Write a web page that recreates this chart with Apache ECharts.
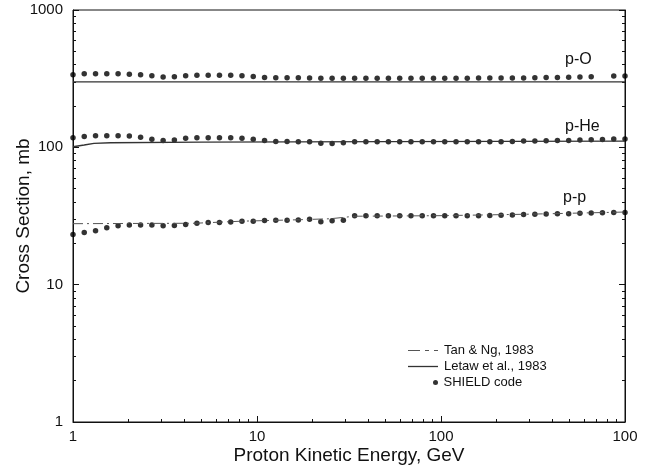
<!DOCTYPE html>
<html>
<head>
<meta charset="utf-8">
<script src="https://cdn.jsdelivr.net/npm/echarts@6/dist/echarts.min.js"></script>
<style>
  html, body { margin: 0; padding: 0; background: #fff; }
  #chart { width: 649px; height: 466px; }
</style>
</head>
<body>
<div id="chart"></div>
<script>
// proton kinetic energy, GeV (log grid of the SHIELD points)
const energy = [1, 1.151, 1.326, 1.526, 1.758, 2.024, 2.330, 2.683, 3.089, 3.556,
  4.095, 4.715, 5.429, 6.251, 7.197, 8.286, 9.541, 10.99, 12.65, 14.57,
  16.77, 19.31, 22.23, 25.60, 29.47, 33.93, 39.07, 44.99, 51.79, 59.64,
  68.66, 79.06, 91.03, 104.8, 120.7, 138.9, 160.0, 184.2, 212.1, 244.2,
  281.2, 323.7, 372.8, 429.2, 494.2, 569.0, 655.1, 754.3, 868.6, 1000];

// SHIELD code, mb
const shieldPO = [338, 343, 344, 344, 343, 340, 338, 332, 325, 326,
  332, 335, 335, 335, 335, 332, 328, 322, 321, 321,
  321, 320, 319, 318, 319, 319, 318, 319, 319, 319,
  318, 319, 319, 319, 319, 319, 320, 320, 320, 320,
  320, 321, 322, 323, 324, 325, 326, null, 330, 331];
const shieldPHe = [117.5, 120, 121.5, 121.5, 121.5, 121, 118.5, 114.5, 112, 113,
  116.5, 117.5, 117.5, 117.5, 117.5, 116.5, 114.5, 112, 110.5, 110.5,
  110, 110, 107, 106.5, 108, 110, 110, 110, 110, 110,
  110, 110, 110, 110, 110, 110, 110, 110, 110, 110.5,
  111, 111, 111.5, 112, 112, 113, 113.5, 114, 115, 115];
const shieldPP = [23.2, 24.0, 24.7, 26.0, 26.8, 27.2, 27.2, 27.2, 26.9, 27.0,
  27.4, 28.0, 28.3, 28.3, 28.6, 29.0, 29.0, 29.3, 29.5, 29.5,
  29.6, 29.9, 28.7, 29.2, 29.5, 31.8, 31.8, 31.8, 31.8, 31.8,
  31.8, 31.8, 31.8, 31.8, 31.8, 31.8, 31.8, 31.9, 32.0, 32.2,
  32.4, 32.6, 32.7, 32.8, 32.9, 33.1, 33.3, 33.4, 33.6, 33.6];

// Letaw et al., 1983
const letawOE = [1, 10, 100, 1000];
const letawPO = [300, 300, 300, 300];
const letawHeE = [1, 1.15, 1.3, 1.6, 5, 50, 1000];
const letawPHe = [101, 104, 107, 108, 109, 110, 111];

// Tan & Ng, 1983
const tanE = [1, 2, 4.6, 8.3, 17, 25, 34, 100, 300, 1000];
const tanPP = [27.8, 27.9, 28.0, 29.0, 29.7, 30.2, 31.5, 31.8, 32.6, 33.8];

// ticks
const xTickLabels = ['1', '10', '100', '100'];
const yTickLabels = ['1', '10', '100', '1000'];
const minorTicks = [2, 3, 4, 5, 6, 7, 8, 9, 20, 30, 40, 50, 60, 70, 80, 90,
  200, 300, 400, 500, 600, 700, 800, 900];

const pairs = (xs, ys) => xs.map((x, i) => [x, ys[i]]).filter(p => p[1] != null);

const FONT = 'Liberation Sans, Arial, Helvetica, sans-serif';
const INK = '#111';

const chart = echarts.init(document.getElementById('chart'));

const logAxis = {
  type: 'log',
  logBase: 10,
  min: 1,
  max: 1000,
  splitLine: { show: false },
  minorTick: { show: false },
  minorSplitLine: { show: false }
};
// minor ticks drawn by a plain value axis spanning the same decades (0..3 in log10)
const minorAxis = (position) => ({
  type: 'value',
  position: position,
  min: 0,
  max: 3,
  splitLine: { show: false },
  axisLine: { show: false, onZero: false },
  axisLabel: { show: false },
  axisTick: {
    show: true, inside: true, length: 3,
    customValues: minorTicks.map(v => Math.log10(v)),
    lineStyle: { color: INK }
  }
});
const majorTick = { show: true, inside: true, length: 6, lineStyle: { color: INK } };
const axisLine = { show: true, onZero: false, lineStyle: { color: INK, width: 1 } };

const legendText = { fontFamily: FONT, fontSize: 13, color: INK };

const option = {
  animation: false,
  backgroundColor: '#fff',
  grid: {
    left: 73, right: 24, top: 10, bottom: 44,
    outerBoundsMode: 'none',
    show: true, borderColor: INK, borderWidth: 1, backgroundColor: 'transparent'
  },
  legend: [
    {
      data: [{ name: 'Tan & Ng, 1983', icon: 'path://M0,0h12v1h-12z M17,0h4v1h-4z M26,0h4v1h-4z' }],
      left: 403, top: 339,
      itemWidth: 30, itemHeight: 1.2,
      textStyle: Object.assign({ padding: [0, 0, 0, 1] }, legendText)
    },
    {
      data: [{ name: 'Letaw et al., 1983', icon: 'rect' }],
      left: 403, top: 355,
      itemWidth: 30, itemHeight: 1.3,
      textStyle: Object.assign({ padding: [0, 0, 0, 1] }, legendText)
    },
    {
      data: ['SHIELD code'],
      left: 428, top: 371,
      itemWidth: 6, itemHeight: 5,
      textStyle: legendText
    }
  ],
  xAxis: [
    Object.assign({}, logAxis, {
      position: 'bottom',
      name: 'Proton Kinetic Energy, GeV',
      nameLocation: 'middle',
      nameGap: 24,
      nameMoveOverlap: false,
      nameTextStyle: { fontFamily: FONT, fontSize: 19, color: INK },
      axisLine: axisLine,
      axisTick: majorTick,
      axisLabel: {
        margin: 7, fontFamily: FONT, fontSize: 15, color: INK,
        formatter: (v, i) => xTickLabels[i]
      }
    }),
    minorAxis('bottom')
  ],
  yAxis: [
    Object.assign({}, logAxis, {
      position: 'left',
      name: 'Cross Section, mb',
      nameLocation: 'middle',
      nameGap: 40,
      nameMoveOverlap: false,
      nameTextStyle: { fontFamily: FONT, fontSize: 19, color: INK },
      axisLine: axisLine,
      axisTick: majorTick,
      axisLabel: {
        margin: 10, fontFamily: FONT, fontSize: 15, color: INK,
        formatter: (v, i) => yTickLabels[i]
      }
    }),
    minorAxis('left'),
    Object.assign({}, logAxis, {
      position: 'right',
      axisLine: axisLine,
      axisTick: majorTick,
      axisLabel: { show: false }
    }),
    minorAxis('right')
  ],
  graphic: [
    { type: 'text', left: 565, top: 52, style: { text: 'p-O', font: '16px ' + FONT, fill: INK } },
    { type: 'text', left: 565, top: 119, style: { text: 'p-He', font: '16px ' + FONT, fill: INK } },
    { type: 'text', left: 563, top: 190, style: { text: 'p-p', font: '16px ' + FONT, fill: INK } }
  ],
  series: [
    {
      name: 'Tan & Ng, 1983', type: 'line', symbol: 'none',
      data: pairs(tanE, tanPP),
      lineStyle: { color: '#555', width: 1, type: [10, 4, 2, 4] }, itemStyle: { color: '#555' }
    },
    {
      name: 'Letaw et al., 1983', type: 'line', symbol: 'none',
      data: pairs(letawOE, letawPO),
      lineStyle: { color: '#333', width: 1.3 }, itemStyle: { color: '#333' }
    },
    {
      name: 'Letaw et al., 1983', type: 'line', symbol: 'none',
      data: pairs(letawHeE, letawPHe),
      lineStyle: { color: '#333', width: 1.3 }, itemStyle: { color: '#333' }
    },
    {
      name: 'SHIELD code', type: 'scatter', symbolSize: 5.5,
      data: pairs(energy, shieldPO), itemStyle: { color: '#000' }
    },
    {
      name: 'SHIELD code', type: 'scatter', symbolSize: 5.5,
      data: pairs(energy, shieldPHe), itemStyle: { color: '#000' }
    },
    {
      name: 'SHIELD code', type: 'scatter', symbolSize: 5.5,
      data: pairs(energy, shieldPP), itemStyle: { color: '#000' }
    }
  ]
};

chart.setOption(option);
</script>
</body>
</html>
